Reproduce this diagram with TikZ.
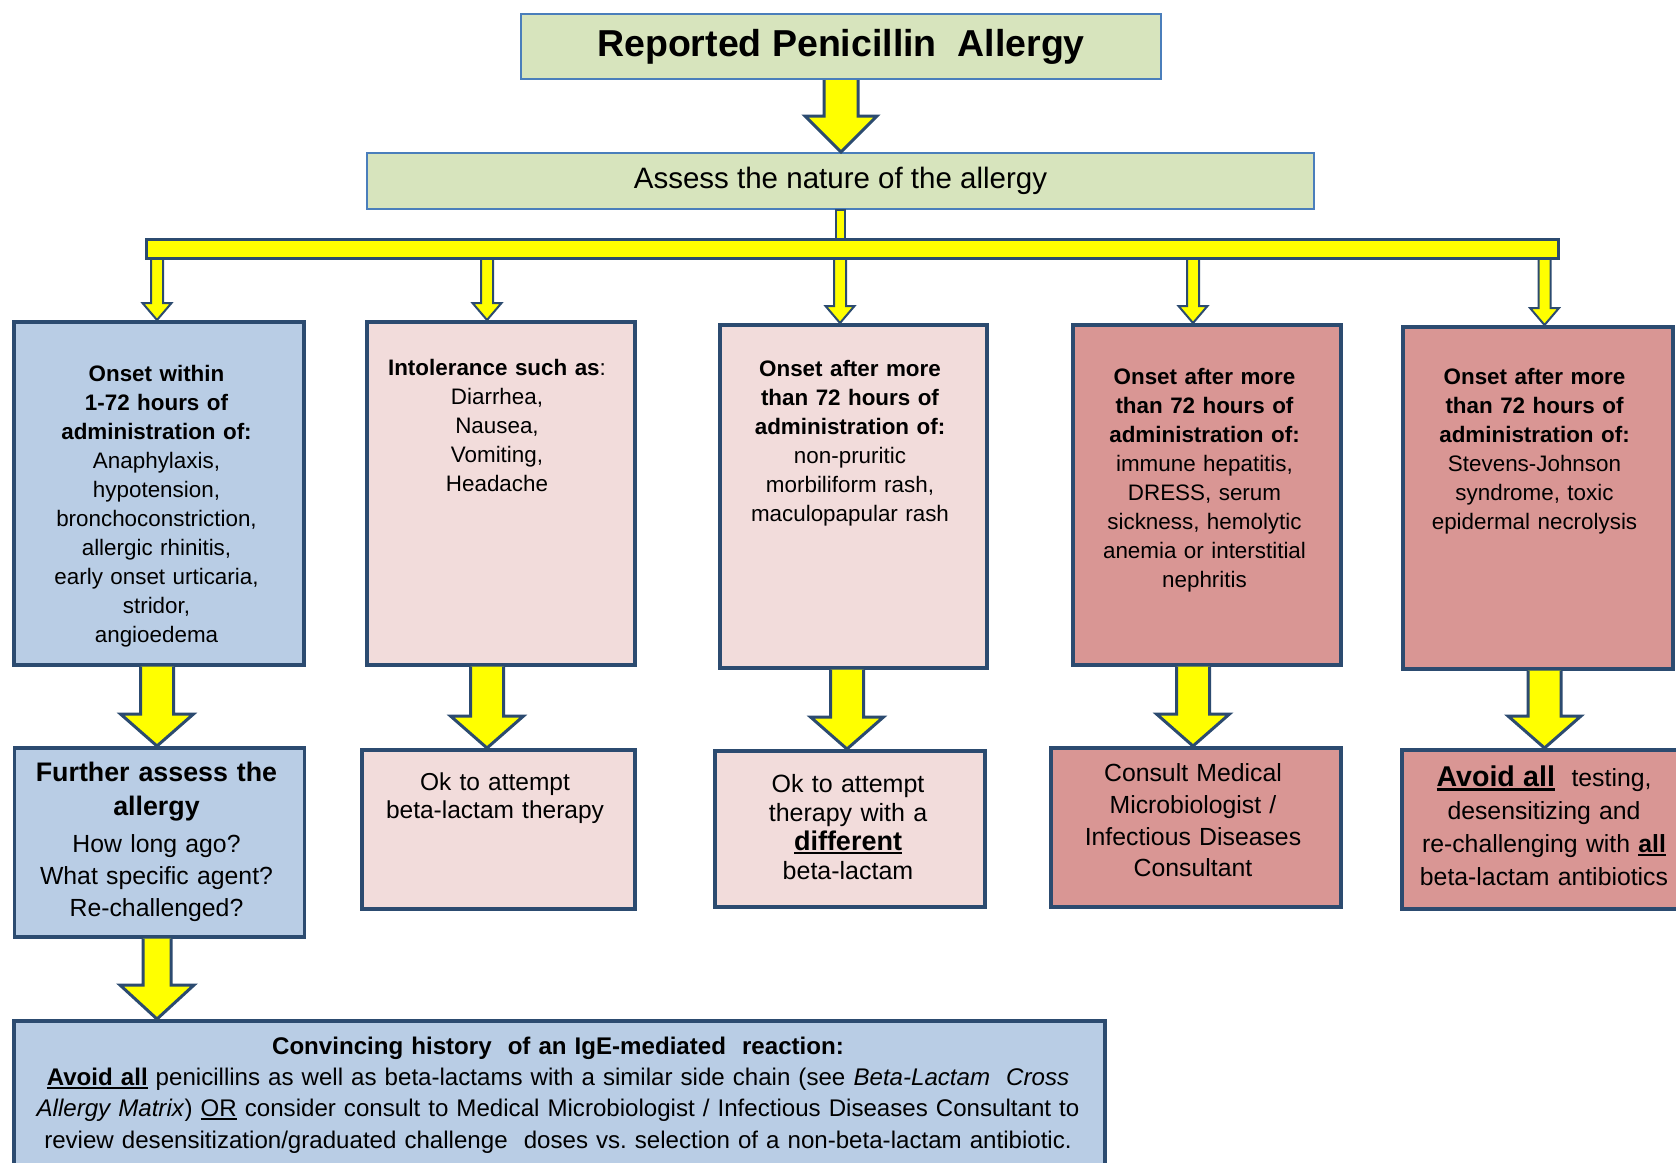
\documentclass[tikz,border=0pt]{standalone}
\usepackage{fontspec}
\setmainfont{Liberation Sans}
\usetikzlibrary{calc}
\frenchspacing
\definecolor{bord}{HTML}{2C4B70}
\definecolor{tborder}{HTML}{4A7EBB}
\definecolor{greenfill}{HTML}{D7E4BD}
\definecolor{bluefill}{HTML}{B9CDE5}
\definecolor{pinkfill}{HTML}{F2DCDB}
\definecolor{rosefill}{HTML}{D99694}
\definecolor{arrowyellow}{HTML}{FFFF00}
\newcommand\ulbar[3]{\setbox0=\hbox{#3}\leavevmode\rlap{\rule[-#1]{\wd0}{#2}}\box0\relax}
\newcommand\blockarr[6]{\draw[#6] let \p1=#1, \p2=#2 in
  (\x1-#3,\y1) -- (\x1-#3,\y2+#5) -- (\x1-#4,\y2+#5) -- (\x1,\y2) -- (\x1+#4,\y2+#5) -- (\x1+#3,\y2+#5) -- (\x1+#3,\y1);}
\tikzset{
  boxb/.style={draw=bord, line width=3.5pt, inner sep=0pt, anchor=north west},
  hdrbox/.style={draw=tborder, line width=2pt, fill=greenfill, inner sep=0pt, anchor=north west},
  txt/.style={anchor=north, inner sep=0pt, align=center, text=black},
  yarrow/.style={fill=arrowyellow, draw=bord, line width=3pt, line join=miter},
  sarrow/.style={fill=arrowyellow, draw=bord, line width=2pt, line join=miter},
}
\begin{document}
\begin{tikzpicture}[x=1pt, y=-1pt]
\useasboundingbox (0,0) rectangle (1676,1162);
\fill[white] (0,0) rectangle (1676,1162);

% column coordinates
\coordinate (k1) at (157,0);
\coordinate (k2) at (487,0);
\coordinate (k3s) at (840,0);
\coordinate (k3) at (847,0);
\coordinate (k4) at (1193,0);
\coordinate (k5) at (1544.5,0);

% header boxes
\node[hdrbox, minimum width=640pt, minimum height=65pt, font=\fontsize{37.5}{45}\selectfont\bfseries] (title) at (520,13) {Reported Penicillin\ \ Allergy};
\node[hdrbox, minimum width=947pt, minimum height=56pt, font=\fontsize{29.5}{35}\selectfont] (assess) at (366,152) {Assess the nature of the allergy};

% connector and bar
\path[fill=arrowyellow, draw=bord, line width=1.2pt] let \p1=(assess.south), \p2=(k3s |- 0,246) in (\x1-4.5pt,\y1) rectangle (\x1+4.5pt,\y2);
\node[boxb, fill=arrowyellow, line width=3pt, minimum width=1412pt, minimum height=19pt] (bar) at (145,238) {};

% row 1 boxes
\node[boxb, fill=bluefill, minimum width=290pt, minimum height=343pt] (b1) at (12,320) {};
\node[boxb, fill=pinkfill, minimum width=268pt, minimum height=343pt] (b2) at (365,320) {};
\node[boxb, fill=pinkfill, minimum width=267pt, minimum height=343pt] (b3) at (718,323) {};
\node[boxb, fill=rosefill, minimum width=268pt, minimum height=340pt] (b4) at (1071,323) {};
\node[boxb, fill=rosefill, minimum width=270pt, minimum height=342pt] (b5) at (1401,325) {};

% row 2 boxes
\node[boxb, fill=bluefill, minimum width=290pt, minimum height=189pt] (c1) at (12.5,746) {};
\node[boxb, fill=pinkfill, minimum width=273pt, minimum height=159pt] (c2) at (360,748) {};
\node[boxb, fill=pinkfill, minimum width=270pt, minimum height=156pt] (c3) at (713,749) {};
\node[boxb, fill=rosefill, minimum width=290pt, minimum height=159pt] (c4) at (1049,746) {};
\node[boxb, fill=rosefill, minimum width=290pt, minimum height=159pt] (c5) at (1400,748) {};

% bottom box
\node[boxb, fill=bluefill, minimum width=1091pt, minimum height=170pt] (bot) at (12,1019) {};

% arrows
\blockarr{(title.south)}{(assess.north)}{17pt}{36pt}{36pt}{yarrow}
\foreach \k/\b in {k1/b1, k2/b2, k3s/b3, k4/b4, k5/b5}{
  \blockarr{(\k |- bar.south)}{(\k |- \b.north)}{6pt}{14.5pt}{17pt}{sarrow}
}
\foreach \k/\a/\b in {k1/b1/c1, k2/b2/c2, k3/b3/c3, k4/b4/c4, k5/b5/c5}{
  \blockarr{(\k |- \a.south)}{(\k |- \b.north)}{16.5pt}{36.5pt}{32pt}{yarrow}
}
\blockarr{(k1 |- c1.south)}{(k1 |- bot.north)}{14pt}{37pt}{34pt}{yarrow}

% row 1 texts
\node[txt, text width=280pt, font=\fontsize{22.4}{29}\selectfont] (t1) at (156.5,361.4)
  {\strut\textbf{Onset within}\\ \textbf{1-72 hours of}\\ \textbf{administration of:}\\ Anaphylaxis,\\ hypotension,\\ bronchoconstriction,\\ allergic rhinitis,\\ early onset urticaria,\\ stridor,\\ angioedema};
\node[txt, text width=260pt, font=\fontsize{22.4}{29}\selectfont] (t2) at (497,354.7)
  {\strut\textbf{Intolerance such as}:\\ Diarrhea,\\ Nausea,\\ Vomiting,\\ Headache};
\node[txt, text width=260pt, font=\fontsize{22.4}{29}\selectfont] (t3) at (850,356.4)
  {\strut\textbf{Onset after more}\\ \textbf{than 72 hours of}\\ \textbf{administration of:}\\ non-pruritic\\ morbiliform rash,\\ maculopapular rash};
\node[txt, text width=260pt, font=\fontsize{22.4}{29}\selectfont] (t4) at (1204.5,363.7)
  {\strut\textbf{Onset after more}\\ \textbf{than 72 hours of}\\ \textbf{administration of:}\\ immune hepatitis,\\ DRESS, serum\\ sickness, hemolytic\\ anemia or interstitial\\ nephritis};
\node[txt, text width=260pt, font=\fontsize{22.4}{29}\selectfont] (t5) at (1534.5,363.7)
  {\strut\textbf{Onset after more}\\ \textbf{than 72 hours of}\\ \textbf{administration of:}\\ Stevens-Johnson\\ syndrome, toxic\\ epidermal necrolysis};

% row 2 texts
\node[txt, text width=280pt, font=\fontsize{26.8}{34.7}\selectfont\bfseries] (u1h) at (156.5,756.7)
  {\strut Further assess the\\ allergy};
\node[txt, text width=280pt, font=\fontsize{24.8}{32.2}\selectfont] (u1b) at (156.5,829.8)
  {\strut How long ago?\\ What specific agent?\\ Re-challenged?};
\node[txt, text width=265pt, font=\fontsize{24.5}{28.3}\selectfont] (u2) at (495,770.2)
  {\strut Ok to attempt\\ beta-lactam therapy};
\node[txt, text width=260pt, font=\fontsize{25}{29}\selectfont] (u3) at (848,771.7)
  {\strut Ok to attempt\\ therapy with a\\ {\fontsize{27}{29}\selectfont\bfseries\ulbar{4pt}{2.6pt}{different}}\\ beta-lactam};
\node[txt, text width=280pt, font=\fontsize{24.8}{31.9}\selectfont] (u4) at (1193,758.7)
  {\strut Consult Medical\\ Microbiologist /\\ Infectious Diseases\\ Consultant};
\node[txt, text width=280pt, font=\fontsize{24.8}{33}\selectfont] (u5) at (1544,763.6)
  {\strut{\fontsize{28.6}{33}\selectfont\bfseries\ulbar{4.5pt}{3pt}{Avoid all}}\ \ testing,\\ desensitizing and\\ re-challenging with \textbf{\ulbar{3pt}{2pt}{all}}\\ beta-lactam antibiotics};

% bottom text
\node[txt, text width=1090pt, font=\fontsize{24.1}{31.3}\selectfont] (tb) at (558,1032.1)
  {\strut\textbf{Convincing history\ \ of an IgE-mediated\ \ reaction:}\\
   \ulbar{3pt}{1.6pt}{\textbf{Avoid all}} penicillins as well as beta-lactams with a similar side chain (see \textit{Beta-Lactam\ \ Cross}\\
   \textit{Allergy Matrix}) \ulbar{3pt}{1.6pt}{OR} consider consult to Medical Microbiologist / Infectious Diseases Consultant to\\
   review desensitization/graduated challenge\ \ doses vs. selection of a non-beta-lactam antibiotic.};
\end{tikzpicture}
\end{document}
